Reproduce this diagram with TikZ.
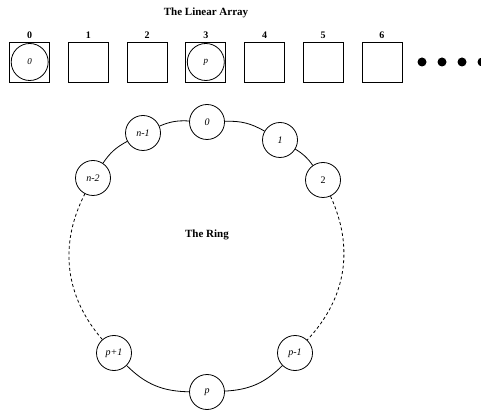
\documentclass[tikz,border=0pt]{standalone}
\usepackage{fontspec}
\setmainfont{Liberation Serif}

\begin{document}
\begin{tikzpicture}[x=1pt, y=1pt, line width=0.8pt,
                    cell/.style={rectangle, draw, minimum width=40pt, minimum height=40pt, inner sep=0pt},
                    held/.style={circle, draw, minimum size=37pt, inner sep=0pt, font=\fontsize{9}{9}\selectfont\itshape},
                    proc/.style={circle, draw, fill=white, minimum size=35pt, inner sep=0pt, font=\fontsize{10}{10}\selectfont\itshape},
                    index/.style={font=\fontsize{10}{10}\selectfont\bfseries},
                    caption/.style={font=\fontsize{11}{11}\selectfont\bfseries},
                    more/.style={circle, fill=black, minimum size=9pt, inner sep=0pt},
                    link/.style={draw=black},
                    gap/.style={draw=black, dash pattern=on 3pt off 2.5pt}]
                    \useasboundingbox (0, 0) rectangle (481, 412);
                    % the linear array
                    \node[caption] (arrtitle) at (206, 399) {The Linear Array};
                    \foreach \i/\x in {0/29.7, 1/88.4, 2/147.1, 3/205.8, 4/264.5, 5/323.2, 6/381.9} {
                        \node[cell] (a\i) at (\x, 350) {};
                        \node[index] (l\i) at (\x, 377) {\i};
                    }
                    \node[held] (h0) at (a0) {0};
                    \node[held] (h3) at (a3) {p};
                    \node[more] (d1) at (422, 350) {};
                    \node[more] (d2) at (442, 350) {};
                    \node[more] (d3) at (462, 350) {};
                    \node[more] (d4) at (482, 350) {};
                    % the ring
                    \node[caption] (ringtitle) at (207, 177) {The Ring};
                    \node[proc] (r0) at (207, 290) {0};
                    \node[proc] (r1) at (280, 272) {1};
                    \node[proc] (r2) at (323, 232) {\upshape 2};
                    \node[proc] (rn1) at (143, 279) {n-1};
                    \node[proc] (rn2) at (93, 234) {n-2};
                    \node[proc] (rpm) at (295, 59) {p-1};
                    \node[proc] (rp) at (207, 20) {p};
                    \node[proc] (rpp) at (114, 59) {p+1};
                    \draw[link] (rn2) to[bend left=14] (rn1);
                    \draw[link] (rn1) to[bend left=13] (r0);
                    \draw[link] (r0) to[bend left=16] (r1);
                    \draw[link] (r1) to[bend left=12] (r2);
                    \draw[gap] (r2) to[bend left=34] (rpm);
                    \draw[link] (rpm) to[bend left=21] (rp);
                    \draw[link] (rp) to[bend left=22] (rpp);
                    \draw[gap] (rpp) to[bend left=34] (rn2);
                \end{tikzpicture}
\end{document}
